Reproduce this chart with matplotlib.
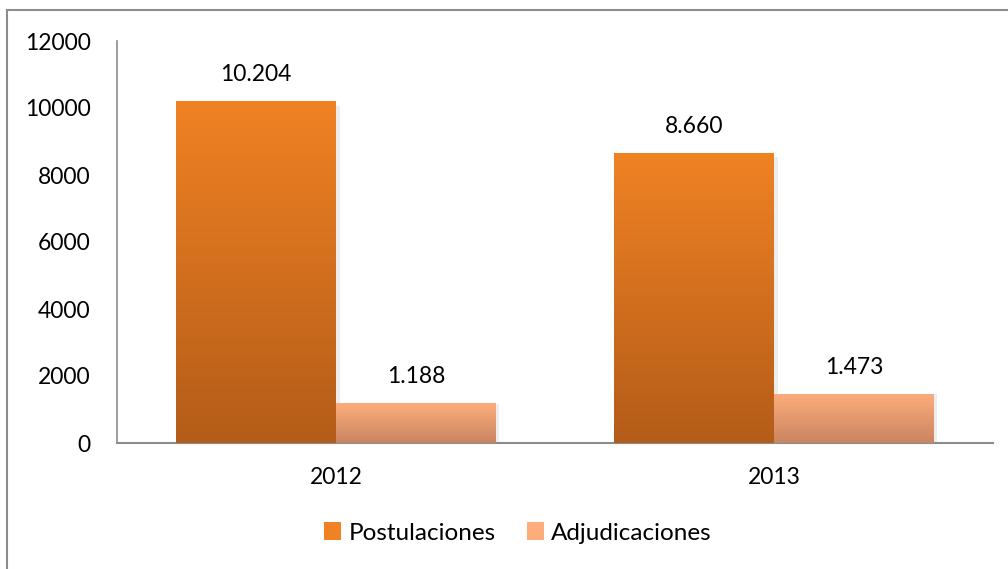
import numpy as np
import matplotlib
matplotlib.use("Agg")
import matplotlib.pyplot as plt
from matplotlib.patches import Rectangle, Patch
from matplotlib.lines import Line2D
from matplotlib.colors import LinearSegmentedColormap

categories = ["2012", "2013"]
series_names = ["Postulaciones", "Adjudicaciones"]
postulaciones = [10204, 8660]
adjudicaciones = [1188, 1473]
value_labels = [["10.204", "8.660"], ["1.188", "1.473"]]
yticks = [0, 2000, 4000, 6000, 8000, 10000, 12000]

plt.rcParams['font.family'] = ['Lato', 'DejaVu Sans']
FS = 16.5

W, H = 1008, 569
fig = plt.figure(figsize=(W/100, H/100), dpi=100)
ax = fig.add_axes([117/W, 1-443/H, (993-117)/W, (443-41)/H])

# outer border (left and top visible)
fig.add_artist(Line2D([7/W, 7/W], [0, 1-10/H], transform=fig.transFigure, color="#8c8c8c", lw=1.5))
fig.add_artist(Line2D([7/W, 1], [1-10/H, 1-10/H], transform=fig.transFigure, color="#8c8c8c", lw=1.5))

x = np.arange(len(categories))
bw = 0.365
grads = [("#f08223", "#b45c19"), ("#fdad7c", "#c98560")]
data = [postulaciones, adjudicaciones]
for si, (vals, (ctop, cbot)) in enumerate(zip(data, grads)):
    offs = (si - 0.5) * bw
    bars = ax.bar(x + offs, vals, bw, color=ctop, label=series_names[si], zorder=2)
    cmap = LinearSegmentedColormap.from_list("g%d" % si, [cbot, ctop])
    for bi, b in enumerate(bars):
        x0, w, h = b.get_x(), b.get_width(), b.get_height()
        # soft shadow
        ax.add_patch(Rectangle((x0 + w, 0), 0.008, h * 0.985, color="#e2e2e2", alpha=0.6, lw=0, zorder=1))
        grad = np.linspace(0, 1, 256).reshape(-1, 1)
        im = ax.imshow(grad, extent=[x0, x0 + w, 0, h], origin="lower", cmap=cmap,
                       aspect="auto", zorder=3)
        im.set_clip_path(b)
        ax.text(x0 + w/2, h + 480, value_labels[si][bi], ha="center", va="bottom",
                fontsize=FS, color="#000000", zorder=4)

ax.set_xlim(-0.5, 1.5)
ax.set_ylim(0, 12000)
ax.set_yticks(yticks)
ax.set_yticklabels([str(t) for t in yticks], fontsize=FS)
ax.set_xticks(x)
ax.set_xticklabels(categories, fontsize=FS)
ax.tick_params(axis="y", length=0, pad=19)
ax.tick_params(axis="x", length=0, pad=17)
for s in ["top", "right"]:
    ax.spines[s].set_visible(False)
ax.spines["left"].set_color("#8c8c8c")
ax.spines["bottom"].set_color("#8c8c8c")
ax.spines["bottom"].set_linewidth(1.5)
ax.spines["left"].set_linewidth(1.2)

handles = [Patch(facecolor=grads[0][0], edgecolor="none"), Patch(facecolor=grads[1][0], edgecolor="none")]
fig.legend(handles, series_names, loc="center", bbox_to_anchor=(518/W, 1-533/H), ncol=2,
           frameon=False, fontsize=17.5, handlelength=0.7, handleheight=0.7,
           handletextpad=0.3, columnspacing=1.3)

fig.savefig("out.png", dpi=100)
